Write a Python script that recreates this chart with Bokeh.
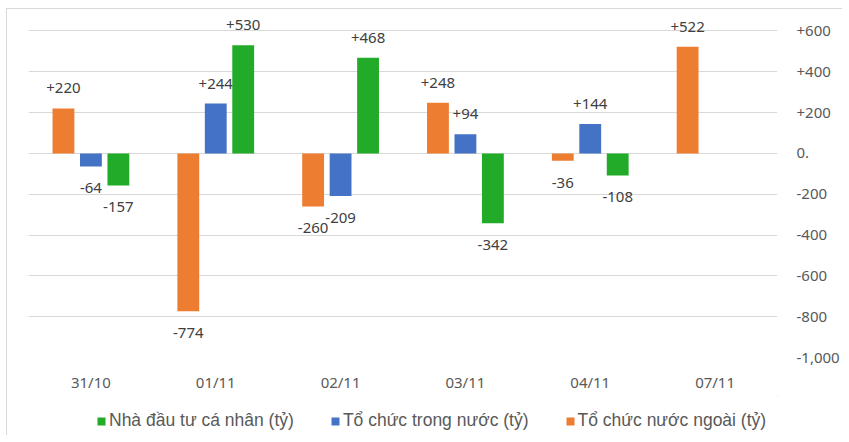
from bokeh.plotting import figure
from bokeh.layouts import column
from bokeh.models import ColumnDataSource, FactorRange, Range1d, Legend, LegendItem, FixedTicker
from bokeh.transform import dodge
from bokeh.core.properties import value
from bokeh.embed import file_html
from bokeh.resources import INLINE

cats = ["31/10", "01/11", "02/11", "03/11", "04/11", "07/11"]
foreign = [220, -774, -260, 248, -36, 522]
domestic = [-64, 244, -209, 94, 144, None]
individual = [-157, 530, 468, -342, -108, None]

y_ticks = [-1000, -800, -600, -400, -200, 0, 200, 400, 600]
y_tick_labels = ["-1,000", "-800", "-600", "-400", "-200", "0.", "+200", "+400", "+600"]

series = [
    ("Tổ chức nước ngoài (tỷ)", foreign, "#ED7D31", -0.22),
    ("Tổ chức trong nước (tỷ)", domestic, "#4472C4", 0.0),
    ("Nhà đầu tư cá nhân (tỷ)", individual, "#22AB28", 0.22),
]
legend_order = [2, 1, 0]

FONT = "Noto Sans"
LEG_FONT = "Liberation Sans"
W = 835

p = figure(
    x_range=FactorRange(factors=cats, range_padding=0),
    y_range=Range1d(-1000, 700),
    width=W, height=386,
    output_backend="svg", toolbar_location=None,
    y_axis_location="right",
    min_border_left=21, min_border_right=60,
    min_border_top=1, min_border_bottom=38,
)
p.outline_line_color = None
p.xgrid.grid_line_color = None
p.ygrid.grid_line_color = "#D9D9D9"
p.ygrid.grid_line_width = 1
p.yaxis.ticker = FixedTicker(ticks=y_ticks)
p.yaxis.major_label_overrides = {t: l for t, l in zip(y_ticks, y_tick_labels)}

for ax in (p.xaxis[0], p.yaxis[0]):
    ax.axis_line_color = None
    ax.major_tick_line_color = None
    ax.minor_tick_line_color = None
    ax.major_label_text_font = FONT
    ax.major_label_text_font_size = "15px"
    ax.major_label_text_color = "#595959"
p.yaxis.major_label_standoff = 13
p.xaxis.major_label_standoff = 8

for name, vals, color, off in series:
    xs = [c for c, v in zip(cats, vals) if v is not None]
    ys = [v for v in vals if v is not None]
    src = ColumnDataSource(dict(x=xs, top=ys))
    p.vbar(x=dodge("x", off, range=p.x_range), top="top", bottom=0, width=0.175,
           source=src, fill_color=color, line_color=None)
    pos = ColumnDataSource(dict(x=[x for x, y in zip(xs, ys) if y >= 0],
                                y=[y for y in ys if y >= 0],
                                t=["%+d" % y for y in ys if y >= 0]))
    neg = ColumnDataSource(dict(x=[x for x, y in zip(xs, ys) if y < 0],
                                y=[y for y in ys if y < 0],
                                t=["%d" % y for y in ys if y < 0]))
    p.text(x=dodge("x", off, range=p.x_range), y="y", text="t", source=pos,
           text_align="center", text_baseline="bottom", y_offset=-15,
           text_font=value(FONT), text_font_size="15px", text_color="#404040")
    p.text(x=dodge("x", off, range=p.x_range), y="y", text="t", source=neg,
           text_align="center", text_baseline="top", y_offset=17,
           text_font=value(FONT), text_font_size="15px", text_color="#404040")

# legend strip below the chart
lg = figure(width=W, height=40, output_backend="svg", toolbar_location=None,
            x_range=Range1d(0, 1), y_range=Range1d(0, 1),
            x_axis_location=None, y_axis_location=None,
            min_border=0, min_border_left=0, min_border_right=0,
            min_border_top=0, min_border_bottom=0)
lg.grid.visible = False
lg.outline_line_color = None
items = []
for i in legend_order:
    name, vals, color, off = series[i]
    r = lg.vbar(x=[5], top=[5], bottom=[4], width=0.1, fill_color=color, line_color=None)
    items.append(LegendItem(label=name, renderers=[r]))
legend = Legend(items=items, orientation="horizontal", location=(68, 4),
                glyph_width=10, glyph_height=10, label_standoff=3, spacing=36,
                padding=0, margin=0, border_line_color=None, background_fill_alpha=0,
                label_text_font=LEG_FONT, label_text_font_size="17.5px",
                label_text_color="#595959", label_height=20)
lg.add_layout(legend)

layout = column(p, lg, spacing=0,
                styles={"border-top": "1px solid #D9D9D9", "border-left": "1px solid #D9D9D9",
                        "margin-left": "6px", "margin-top": "8px"})

open("out.html", "w").write(file_html(layout, INLINE))
